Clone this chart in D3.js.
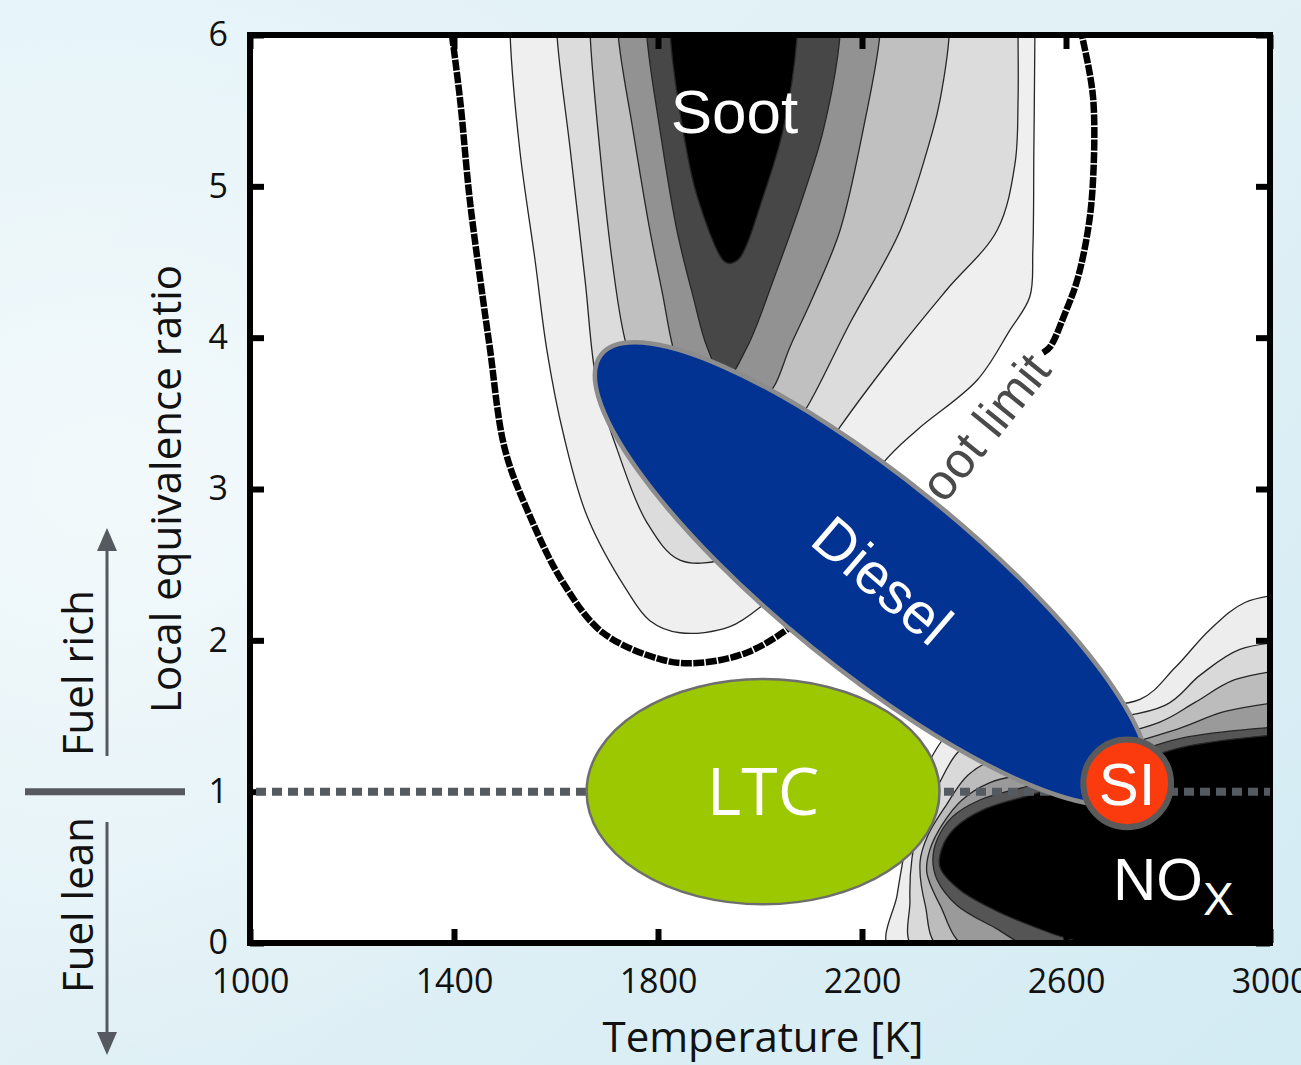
<!DOCTYPE html>
<html>
<head>
<meta charset="utf-8">
<script src="https://cdn.jsdelivr.net/npm/d3@7"></script>
<style>
  html, body { margin: 0; padding: 0; background: #dff0f6; }
  svg { display: block; }
</style>
</head>
<body>
<script>
// axis ticks
var tempTicks = [1000, 1400, 1800, 2200, 2600, 3000];
var phiTicks = [0, 1, 2, 3, 4, 5, 6];

// soot contour levels, outer to inner, [temperature K, equivalence ratio]
var sootLevel1 = [[1510,6.3],[1510,6],[1529,5.24],[1559,4.51],[1582,3.92],[1614,3.37],[1661,2.82],[1739,2.33],[1784,2.13],[1843,2.05],[1941,2.09],[2020,2.27],[2118,2.53],[2241,3.17],[2308,3.39],[2426,3.72],[2490,4.05],[2529,4.27],[2535,4.58],[2537,5.24],[2539,6],[2539,6.3]];
var sootLevel2 = [[1602,6.3],[1602,6],[1628,5.24],[1657,4.38],[1680,3.70],[1720,3.26],[1778,2.78],[1843,2.53],[1941,2.55],[2039,2.80],[2157,3.41],[2275,3.94],[2367,4.32],[2465,4.71],[2500,5.15],[2506,5.57],[2506,6],[2506,6.3]];
var sootLevel3 = [[1667,6.3],[1667,6],[1686,5.24],[1710,4.51],[1735,3.99],[1784,3.46],[1922,3.06],[2059,3.39],[2092,3.54],[2177,4.10],[2275,4.71],[2339,5.37],[2353,5.57],[2371,6],[2371,6.3]];
var sootLevel4 = [[1722,6.3],[1722,6],[1751,5.37],[1784,4.71],[1810,4.27],[1829,3.94],[1863,3.59],[1941,3.39],[2000,3.59],[2026,3.67],[2059,3.94],[2104,4.27],[2157,4.71],[2202,5.37],[2235,6],[2235,6.3]];
var sootLevel5 = [[1778,6.3],[1778,6],[1804,5.37],[1837,4.71],[1869,4.27],[1896,3.94],[1931,3.72],[1975,3.94],[2026,4.38],[2084,4.93],[2124,5.37],[2157,6],[2157,6.3]];
var sootLevel6 = [[1824,6.3],[1824,6],[1849,5.37],[1877,4.93],[1928,4.51],[1941,4.49],[1961,4.53],[2006,4.93],[2045,5.37],[2073,6],[2073,6.3]];

// NOx contour levels, outer to inner
var noxLevel1 = [[3060,2.32],[2951,2.25],[2882,2.07],[2814,1.82],[2745,1.61],[2569,1.57],[2422,1.53],[2369,1.39],[2329,1.18],[2298,0.91],[2284,0.62],[2269,0.32],[2255,-0.05],[3060,-0.05]];
var noxLevel2 = [[3060,2.00],[2941,1.94],[2863,1.77],[2794,1.57],[2569,1.44],[2447,1.39],[2388,1.26],[2349,1.04],[2314,0.80],[2298,0.56],[2294,0.28],[2304,-0.05],[3060,-0.05]];
var noxLevel3 = [[3060,1.82],[2931,1.74],[2853,1.59],[2784,1.46],[2569,1.28],[2471,1.23],[2408,1.11],[2365,0.91],[2329,0.71],[2314,0.54],[2324,0.25],[2357,-0.05],[3060,-0.05]];
var noxLevel4 = [[3060,1.61],[2912,1.53],[2824,1.42],[2667,1.26],[2549,1.14],[2451,1.06],[2396,0.945],[2357,0.78],[2333,0.615],[2327,0.47],[2353,0.25],[2412,-0.05],[3060,-0.05]];
var noxLevel5 = [[3060,1.44],[2829,1.355],[2667,1.18],[2529,1.04],[2431,0.945],[2376,0.83],[2347,0.68],[2339,0.55],[2347,0.42],[2386,0.25],[2461,0.10],[2549,-0.05],[3060,-0.05]];
var noxLevel6 = [[3060,1.39],[2829,1.295],[2667,1.11],[2543,0.99],[2437,0.88],[2382,0.76],[2357,0.63],[2353,0.50],[2392,0.35],[2471,0.20],[2569,0.066],[2633,-0.013],[2633,-0.05],[3060,-0.05]];

// soot limit curve (split where the label sits)
var sootLimitLeft = [[1396,6],[1412,5.57],[1431,4.91],[1457,4.25],[1470,3.94],[1500,3.26],[1549,2.82],[1614,2.38],[1692,2.05],[1810,1.87],[1877,1.85],[1975,1.92],[2073,2.12],[2150,2.35]];
var sootLimitRight = [[2555,3.90],[2569,3.94],[2598,4.16],[2622,4.38],[2643,4.71],[2653,5.04],[2653,5.59],[2633,5.97],[2631,6]];

// combustion regimes
var stoich = 1;
var ltcCenter = [2006, 1.0], ltcHalf = [346, 0.744];
var dieselTips = [[1689, 3.89], [2750, 0.99]], dieselRatio = 0.273;
var siCenter = [2720, 1.055], siRadius = 86;

// labels [T, phi]
var sootLabel = [1950, 5.35];
var dieselLabel = [2241, 2.40];
var sootLimitLabel = [2574, 3.78];
var noxLabel = [2692, 0.284];

var sootFills = ['#efefef', '#dcdcdc', '#c0c0c0', '#929292', '#474747', '#000000'];
var noxFills = ['#ededed', '#d9d9d9', '#bcbcbc', '#9a9a9a', '#555555', '#000000'];

var svg = d3.select('body').append('svg')
            .attr('width', 1301)
            .attr('height', 1065);

var x = d3.scaleLinear().domain([1000, 3000]).range([250, 1270]);
var y = d3.scaleLinear().domain([0, 6]).range([943, 35]);

var defs = svg.append('defs');
var bg = defs.append('linearGradient').attr('id', 'bg')
             .attr('x1', 0).attr('y1', 0).attr('x2', 1).attr('y2', 1);
bg.append('stop').attr('offset', '0%').attr('stop-color', '#e4f3f8');
bg.append('stop').attr('offset', '45%').attr('stop-color', '#e2f1f6');
bg.append('stop').attr('offset', '100%').attr('stop-color', '#d3ebf3');
var glow = defs.append('radialGradient').attr('id', 'glow')
               .attr('cx', 0.08).attr('cy', 0.45).attr('r', 0.55);
glow.append('stop').attr('offset', '0%').attr('stop-color', '#f4fafc').attr('stop-opacity', 0.9);
glow.append('stop').attr('offset', '100%').attr('stop-color', '#f4fafc').attr('stop-opacity', 0);

defs.append('clipPath').attr('id', 'plotClip')
    .append('rect')
    .attr('x', x(1000)).attr('y', y(6))
    .attr('width', x(3000) - x(1000)).attr('height', y(0) - y(6));

svg.append('rect').attr('width', 1301).attr('height', 1065).attr('fill', 'url(#bg)');
svg.append('rect').attr('width', 1301).attr('height', 1065).attr('fill', 'url(#glow)');

svg.append('rect')
   .attr('x', x(1000)).attr('y', y(6))
   .attr('width', x(3000) - x(1000)).attr('height', y(0) - y(6))
   .attr('fill', '#ffffff');

var line = d3.line()
             .x(function(d){ return x(d[0]); })
             .y(function(d){ return y(d[1]); })
             .curve(d3.curveCatmullRom.alpha(0.5));

var plot = svg.append('g').attr('clip-path', 'url(#plotClip)');

var sootLevels = [sootLevel1, sootLevel2, sootLevel3, sootLevel4, sootLevel5, sootLevel6];
plot.selectAll('path.soot')
    .data(sootLevels)
    .enter()
    .append('path')
    .classed('soot', true)
    .attr('d', function(d){ return line(d) + 'Z'; })
    .attr('fill', function(d, i){ return sootFills[i]; })
    .attr('stroke', '#262626')
    .attr('stroke-width', 1.3);

var noxLevels = [noxLevel1, noxLevel2, noxLevel3, noxLevel4, noxLevel5, noxLevel6];
plot.selectAll('path.nox')
    .data(noxLevels)
    .enter()
    .append('path')
    .classed('nox', true)
    .attr('d', function(d){ return line(d) + 'Z'; })
    .attr('fill', function(d, i){ return noxFills[i]; })
    .attr('stroke', '#262626')
    .attr('stroke-width', 1.3);

plot.selectAll('path.limit')
    .data([sootLimitLeft, sootLimitRight])
    .enter()
    .append('path')
    .classed('limit', true)
    .attr('d', function(d){ return line(d); })
    .attr('fill', 'none')
    .attr('stroke', '#000')
    .attr('stroke-width', 6.5)
    .attr('stroke-dasharray', '11,1.5');

plot.append('text')
    .attr('transform', 'translate(' + x(sootLimitLabel[0]) + ',' + y(sootLimitLabel[1]) + ') rotate(-51)')
    .attr('text-anchor', 'end')
    .attr('font-family', 'Liberation Sans, Arial, sans-serif')
    .attr('font-size', 50)
    .attr('fill', '#4a4a4a')
    .text('Soot limit');

// axes: ticks pointing inward
function styleAxis(g){
  g.select('.domain').remove();
  g.selectAll('.tick line').attr('stroke', '#000').attr('stroke-width', 6);
  g.selectAll('.tick text')
   .attr('font-family', 'Open Sans, sans-serif')
   .attr('font-size', 34)
   .attr('fill', '#111');
}
var fmt = d3.format('d');
svg.append('g').attr('transform', 'translate(0,' + y(0) + ')')
   .call(d3.axisBottom(x).tickValues(tempTicks).tickFormat(fmt).tickSizeInner(-14).tickSizeOuter(0).tickPadding(26))
   .call(styleAxis);
svg.append('g').attr('transform', 'translate(0,' + y(6) + ')')
   .call(d3.axisTop(x).tickValues(tempTicks).tickSizeInner(-14).tickSizeOuter(0).tickFormat(''))
   .call(styleAxis);
svg.append('g').attr('transform', 'translate(' + x(1000) + ',0)')
   .call(d3.axisLeft(y).tickValues(phiTicks).tickFormat(fmt).tickSizeInner(-14).tickSizeOuter(0).tickPadding(22))
   .call(styleAxis);
svg.append('g').attr('transform', 'translate(' + x(3000) + ',0)')
   .call(d3.axisRight(y).tickValues(phiTicks).tickSizeInner(-14).tickSizeOuter(0).tickFormat(''))
   .call(styleAxis);

svg.append('rect')
   .attr('x', x(1000)).attr('y', y(6))
   .attr('width', x(3000) - x(1000)).attr('height', y(0) - y(6))
   .attr('fill', 'none')
   .attr('stroke', '#000')
   .attr('stroke-width', 6);

// stoichiometric line
svg.append('line')
   .attr('x1', x(1000) + 6).attr('x2', x(3000))
   .attr('y1', y(stoich)).attr('y2', y(stoich))
   .attr('stroke', '#555a60')
   .attr('stroke-width', 8)
   .attr('stroke-dasharray', '10,6');

// LTC
var ltc = svg.append('g');
ltc.append('ellipse')
   .attr('cx', x(ltcCenter[0])).attr('cy', y(ltcCenter[1]))
   .attr('rx', x(ltcCenter[0] + ltcHalf[0]) - x(ltcCenter[0]))
   .attr('ry', y(ltcCenter[1] - ltcHalf[1]) - y(ltcCenter[1]))
   .attr('fill', '#9bc800')
   .attr('stroke', '#6e6e6e')
   .attr('stroke-width', 2.5);
ltc.append('text')
   .attr('x', x(ltcCenter[0])).attr('y', y(ltcCenter[1]))
   .attr('dy', '0.36em')
   .attr('text-anchor', 'middle')
   .attr('font-family', 'Open Sans, sans-serif')
   .attr('font-size', 66)
   .attr('fill', '#fff')
   .text('LTC');

// Diesel
var p1 = [x(dieselTips[0][0]), y(dieselTips[0][1])];
var p2 = [x(dieselTips[1][0]), y(dieselTips[1][1])];
var dcx = (p1[0] + p2[0]) / 2, dcy = (p1[1] + p2[1]) / 2;
var da = Math.hypot(p2[0] - p1[0], p2[1] - p1[1]) / 2;
var dang = Math.atan2(p2[1] - p1[1], p2[0] - p1[0]) * 180 / Math.PI;
svg.append('ellipse')
   .attr('transform', 'translate(' + dcx + ',' + dcy + ') rotate(' + dang + ')')
   .attr('rx', da).attr('ry', da * dieselRatio)
   .attr('fill', '#033392')
   .attr('stroke', '#8c8c8c')
   .attr('stroke-width', 4.5);
svg.append('text')
   .attr('transform', 'translate(' + x(dieselLabel[0]) + ',' + y(dieselLabel[1]) + ') rotate(' + (dang + 1.5) + ')')
   .attr('dy', '0.36em')
   .attr('text-anchor', 'middle')
   .attr('font-family', 'Liberation Sans, Arial, sans-serif')
   .attr('font-size', 58)
   .attr('fill', '#fff')
   .text('Diesel');

// SI
svg.append('circle')
   .attr('cx', x(siCenter[0])).attr('cy', y(siCenter[1]))
   .attr('r', x(siCenter[0] + siRadius) - x(siCenter[0]))
   .attr('fill', '#fb3a0e')
   .attr('stroke', '#5a5a5a')
   .attr('stroke-width', 6);
svg.append('text')
   .attr('x', x(siCenter[0])).attr('y', y(siCenter[1]))
   .attr('dy', '0.36em')
   .attr('text-anchor', 'middle')
   .attr('font-family', 'Liberation Sans, Arial, sans-serif')
   .attr('font-size', 60)
   .attr('fill', '#fff')
   .text('SI');

// Soot and NOx labels
svg.append('text')
   .attr('x', x(sootLabel[0])).attr('y', y(sootLabel[1]))
   .attr('text-anchor', 'middle')
   .attr('font-family', 'Liberation Sans, Arial, sans-serif')
   .attr('font-size', 62)
   .attr('fill', '#fff')
   .text('Soot');
var nox = svg.append('text')
   .attr('x', x(noxLabel[0])).attr('y', y(noxLabel[1]))
   .attr('font-family', 'Liberation Sans, Arial, sans-serif')
   .attr('font-size', 60)
   .attr('fill', '#fff');
nox.append('tspan').text('NO');
nox.append('tspan').attr('dy', 15).attr('font-size', 46).text('X');

// axis titles
svg.append('text')
   .attr('x', (x(1000) + x(3000)) / 2 + 3).attr('y', 1052)
   .attr('text-anchor', 'middle')
   .attr('font-family', 'Open Sans, sans-serif')
   .attr('font-size', 42)
   .attr('fill', '#111')
   .text('Temperature [K]');
svg.append('text')
   .attr('transform', 'translate(181,' + y(3.0) + ') rotate(-90)')
   .attr('text-anchor', 'middle')
   .attr('font-family', 'Open Sans, sans-serif')
   .attr('font-size', 42)
   .attr('fill', '#111')
   .text('Local equivalence ratio');

// fuel rich / lean annotation
var ann = svg.append('g').attr('fill', '#111');
ann.append('text')
   .attr('transform', 'translate(93,673) rotate(-90)')
   .attr('text-anchor', 'middle')
   .attr('font-family', 'Open Sans, sans-serif')
   .attr('font-size', 42)
   .text('Fuel rich');
ann.append('text')
   .attr('transform', 'translate(93,905) rotate(-90)')
   .attr('text-anchor', 'middle')
   .attr('font-family', 'Open Sans, sans-serif')
   .attr('font-size', 42)
   .text('Fuel lean');
svg.append('line')
   .attr('x1', 25).attr('x2', 185)
   .attr('y1', y(stoich)).attr('y2', y(stoich))
   .attr('stroke', '#555a60').attr('stroke-width', 7);
svg.append('line')
   .attr('x1', 107).attr('x2', 107).attr('y1', 756).attr('y2', 545)
   .attr('stroke', '#555a60').attr('stroke-width', 3);
svg.append('path')
   .attr('d', 'M107,528 L97,551 L117,551 Z')
   .attr('fill', '#555a60');
svg.append('line')
   .attr('x1', 107).attr('x2', 107).attr('y1', 822).attr('y2', 1035)
   .attr('stroke', '#555a60').attr('stroke-width', 3);
svg.append('path')
   .attr('d', 'M107,1055 L97,1032 L117,1032 Z')
   .attr('fill', '#555a60');
</script>
</body>
</html>
